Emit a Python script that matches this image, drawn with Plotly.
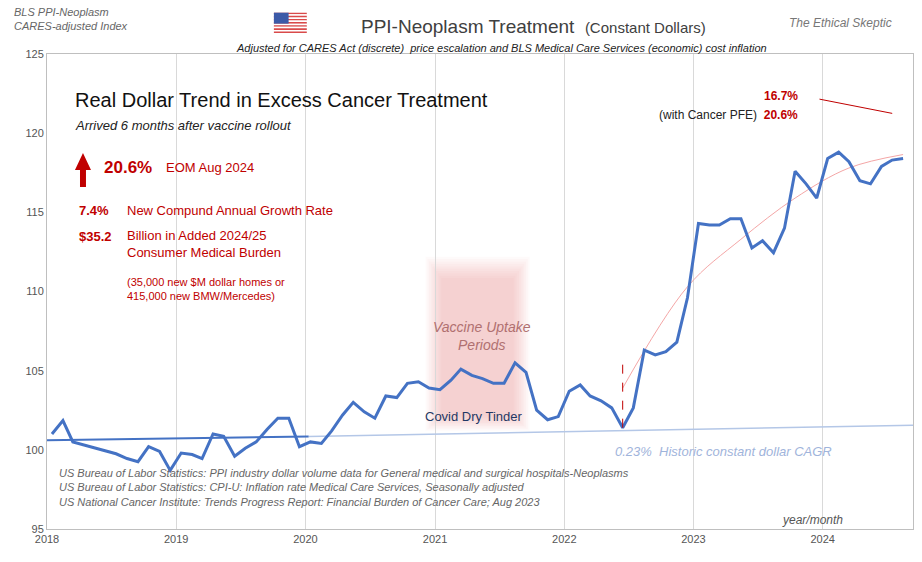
import plotly.graph_objects as go
import pandas as pd

# monthly real-dollar index, Jan 2018 .. Aug 2024
values = [101.0, 101.85, 100.5, 100.3, 100.1, 99.9, 99.75, 99.45, 99.25, 100.2,
          99.9, 98.7, 99.8, 99.7, 99.45, 101.0, 100.85, 99.6, 100.1, 100.5,
          101.3, 102.0, 102.0, 100.2, 100.5, 100.4, 101.2, 102.2, 103.0, 102.4,
          102.0, 103.4, 103.3, 104.2, 104.3, 103.9, 103.8, 104.4, 105.1, 104.7,
          104.5, 104.2, 104.2, 105.5, 104.9, 102.5, 101.9, 102.1, 103.7, 104.1,
          103.4, 103.1, 102.65, 101.4, 102.65, 106.3, 106.0, 106.2, 106.8, 109.6,
          114.3, 114.2, 114.2, 114.6, 114.6, 112.75, 113.2, 112.45, 114.0, 117.6,
          116.8, 115.9, 118.4, 118.8, 118.2, 117.0, 116.8, 117.9, 118.3, 118.4]
dates = pd.date_range("2018-01-01", periods=len(values), freq="MS") + pd.Timedelta(days=14)

# historic constant-dollar CAGR line
cagr_dates = ["2018-01-01", "2020-01-10", "2024-09-12"]
cagr_vals = [100.6, 100.85, 101.55]

# post-rollout trend curve
trend_idx = [53, 59, 64, 69, 74, 79]
trend_vals = [103.9, 110.3, 113.3, 115.9, 117.8, 118.65]
trend_dates = [dates[i] for i in trend_idx]

years = ["2018", "2019", "2020", "2021", "2022", "2023", "2024"]

fig = go.Figure()

# vaccine uptake shading (soft gradient)
for k in range(10):
    d = k * 5
    fig.add_shape(type="rect", x0=pd.Timestamp("2020-12-05") + pd.Timedelta(days=d),
                  x1=pd.Timestamp("2021-09-25") - pd.Timedelta(days=d),
                  y0=101.2 + k * 0.1, y1=112.2 - k * 0.15, fillcolor="#e06666",
                  opacity=0.035, line_width=0, layer="below")

fig.add_trace(go.Scatter(x=cagr_dates[1:], y=cagr_vals[1:], mode="lines",
                         line=dict(color="#b4c7e7", width=1.5), hoverinfo="skip"))
fig.add_trace(go.Scatter(x=cagr_dates[:2], y=cagr_vals[:2], mode="lines",
                         line=dict(color="#4472c4", width=2), hoverinfo="skip"))
fig.add_trace(go.Scatter(x=trend_dates, y=trend_vals, mode="lines",
                         line=dict(color="#f4a6a6", width=1, shape="spline"), hoverinfo="skip"))
fig.add_trace(go.Scatter(x=dates, y=values, mode="lines",
                         line=dict(color="#4472c4", width=3)))

# rollout marker
fig.add_shape(type="line", x0=dates[53], x1=dates[53], y0=101.4, y1=105.4,
              line=dict(color="#c00000", width=1, dash="dash"))
fig.add_shape(type="line", xref="paper", yref="paper", x0=0.892, x1=0.976, y0=0.905, y1=0.875,
              line=dict(color="#c00000", width=1))

# up arrow
fig.add_shape(type="path", xref="paper", yref="paper",
              path="M 0.0381 0.72 L 0.045 0.72 L 0.045 0.7558 L 0.0508 0.7558 L 0.04155 0.7916 "
                   "L 0.0323 0.7558 L 0.0381 0.7558 Z",
              fillcolor="#c00000", line_width=0)

# little flag
fx = 0.262
for s in range(13):
    fig.add_shape(type="rect", xref="paper", yref="paper", x0=fx, x1=fx + 0.038,
                  y0=1.087 - (s + 1) * 0.0033, y1=1.087 - s * 0.0033,
                  fillcolor="#d94a4a" if s % 2 == 0 else "white", line_width=0)
fig.add_shape(type="rect", xref="paper", yref="paper", x0=fx, x1=fx + 0.017,
              y0=1.087 - 7 * 0.0033, y1=1.087, fillcolor="#3c5aa8", line_width=0)

F = "Liberation Sans"
def note(x, y, text, size=12, color="#333", xref="paper", yref="paper", xanchor="left", italic=False, **kw):
    if italic:
        text = "<i>" + text + "</i>"
    fig.add_annotation(x=x, y=y, xref=xref, yref=yref, text=text, showarrow=False,
                       xanchor=xanchor, font=dict(family=F, size=size, color=color), **kw)

note(-0.04, 1.105, "BLS PPI-Neoplasm<br>CARES-adjusted Index", 11, "#666", italic=True, align="left")
note(0.36, 1.085, "PPI-Neoplasm Treatment  <span style='font-size:15px'>(Constant Dollars)</span>", 19, "#404040")
note(0.525, 1.03, "Adjusted for CARES Act (discrete)  price escalation and BLS Medical Care Services (economic) cost inflation",
     11, "#222", xanchor="center", italic=True)
note(0.978, 1.085, "The Ethical Skeptic", 12, "#777", xanchor="right", italic=True)

note(0.03, 0.93, "Real Dollar Trend in Excess Cancer Treatment", 20, "#111")
note(0.03, 0.87, "Arrived 6 months after vaccine rollout", 13, "#222", italic=True)
note(0.063, 0.785, "<b>20.6%</b>", 17, "#c00000")
note(0.135, 0.782, "EOM Aug 2024", 13, "#c00000")
note(0.035, 0.69, "<b>7.4%</b>", 13, "#c00000")
note(0.09, 0.69, "New Compund Annual Growth Rate", 13, "#c00000")
note(0.035, 0.615, "<b>$35.2</b>", 13, "#c00000")
note(0.09, 0.6, "Billion in Added 2024/25<br>Consumer Medical Burden", 13, "#c00000", align="left")
note(0.09, 0.505, "(35,000 new $M dollar homes or<br>415,000 new BMW/Mercedes)", 11, "#c00000", align="left")

note(0.87, 0.93, "<b>16.7%</b>", 12, "#c00000", xanchor="right")
note(0.87, 0.89, "(with Cancer PFE)  <b><span style='color:#c00000'>20.6%</span></b>", 12, "#222", xanchor="right")
note("2021-05-15", 107.2, "Vaccine Uptake<br>Periods", 14, "#b07070", xref="x", yref="y", xanchor="center", italic=True)
note("2021-04-20", 102.1, "Covid Dry Tinder", 13, "#1f3864", xref="x", yref="y", xanchor="center")
note("2022-05-20", 99.9, "0.23%  Historic constant dollar CAGR", 13, "#9fb4db", xref="x", yref="y", italic=True)
note("2023-09-01", 95.6, "year/month", 12, "#555", xref="x", yref="y", italic=True)
note(0.012, 0.04, "US Bureau of Labor Statistics: PPI industry dollar volume data for General medical and surgical hospitals-Neoplasms<br>"
     "US Bureau of Labor Statistics: CPI-U: Inflation rate Medical Care Services, Seasonally adjusted<br>"
     "US National Cancer Institute: Trends Progress Report: Financial Burden of Cancer Care; Aug 2023",
     11, "#666", italic=True, align="left", yanchor="bottom")

fig.update_layout(
    width=922, height=562, showlegend=False, plot_bgcolor="white", paper_bgcolor="white",
    margin=dict(l=39, r=17, t=46, b=41), font=dict(family=F, size=11, color="#555"),
    xaxis=dict(range=["2018-01-01", "2024-09-12"], tickvals=[y + "-01-01" for y in years], ticktext=years,
               showgrid=True, gridcolor="#d9d9d9", showline=True, linecolor="#bfbfbf", mirror=True,
               zeroline=False),
    yaxis=dict(range=[95, 125], dtick=5, showgrid=False, showline=True, linecolor="#bfbfbf",
               mirror=True, zeroline=False),
)
fig.write_html("out.html")
